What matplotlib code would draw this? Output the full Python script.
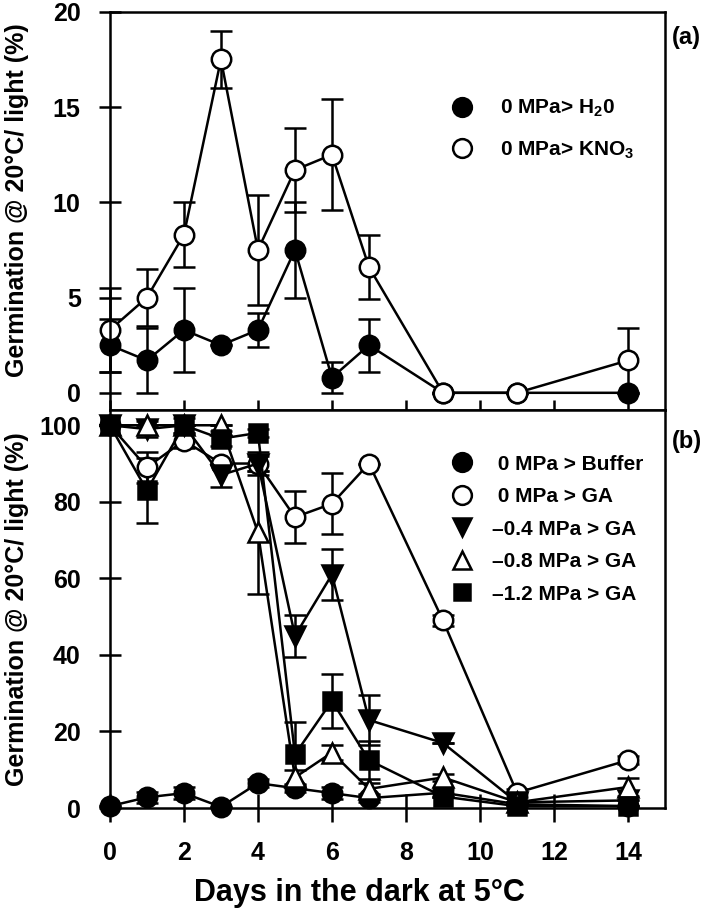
import matplotlib
matplotlib.use("Agg")
import matplotlib.pyplot as plt
from matplotlib.lines import Line2D

plt.rcParams['font.family'] = ['Liberation Sans', 'DejaVu Sans']
plt.rcParams['font.weight'] = 'bold'
plt.rcParams['mathtext.fontset'] = 'custom'
plt.rcParams['mathtext.rm'] = 'Liberation Sans:bold'
plt.rcParams['mathtext.default'] = 'rm'

# days in the dark at 5 C
days = [0, 1, 2, 3, 4, 5, 6, 7, 9, 11, 14]

# panel (a)
h2o = [2.5, 1.7, 3.3, 2.5, 3.3, 7.5, 0.8, 2.5, 0, 0, 0]
h2o_err = [1.4, 1.7, 2.2, 0, 0.9, 2.5, 0.8, 1.4, 0, 0, 0]
kno3 = [3.3, 5.0, 8.3, 17.5, 7.5, 11.7, 12.5, 6.6, 0, 0, 1.7]
kno3_err = [2.2, 1.5, 1.7, 1.5, 2.9, 2.2, 2.9, 1.7, 0, 0, 1.7]

# panel (b)
buffer = [0.5, 2.8, 3.9, 0.3, 6.5, 5.2, 3.9, 2.6, 4.0, 1.0, 0.5]
buffer_err = [0, 1.5, 1.5, 0, 1, 1, 1.5, 1, 1, 0, 0]
ga = [100, 89, 96, 90, 90, 76, 79.5, 90, 49, 4, 12.5]
ga_err = [0, 4, 2, 0, 2, 6.7, 8, 0, 1.5, 1, 1]
m04 = [100, 99, 100, 87, 90, 45, 61, 23, 17, 1.5, 2]
m04_err = [0, 2, 2, 3, 3, 5.5, 6.7, 6.5, 0, 0, 0]
m08 = [100, 100, 100, 100, 72, 8, 14.5, 5, 8, 1.5, 5.5]
m08_err = [0, 0, 0, 0, 16, 2, 2, 1.5, 1, 0, 2.3]
m12 = [100, 83, 100, 96.5, 98, 14, 28, 12.5, 3, 0.5, 0.5]
m12_err = [0, 8.5, 0, 2, 1, 8.5, 7, 5, 0, 0, 0]

labels_a = ['0 MPa> H$_2$0', '0 MPa> KNO$_3$']
labels_b = [' 0 MPa > Buffer', ' 0 MPa > GA', '\u20130.4 MPa > GA',
            '\u20130.8 MPa > GA', '\u20131.2 MPa > GA']

fig = plt.figure(figsize=(7.09, 9.11), dpi=100)
ax1 = fig.add_axes([0.155, 0.55, 0.783, 0.437])
ax2 = fig.add_axes([0.155, 0.113, 0.783, 0.437])

lw = 1.8
style = dict(color='black', lw=lw, ecolor='black', elinewidth=lw,
             capsize=8, capthick=lw, mew=lw, mec='black', clip_on=False)


def series(ax, y, err, marker, face, ms=14):
    ax.errorbar(days, y, yerr=err, marker=marker, mfc=face, ms=ms, **style)
    return Line2D([], [], ls='none', marker=marker, mfc=face, mec='black',
                  mew=lw, ms=ms - 0.5)


# (a)
handles_a = [series(ax1, h2o, h2o_err, 'o', 'black'),
             series(ax1, kno3, kno3_err, 'o', 'white')]
ax1.set_xlim(0, 15)
ax1.set_ylim(-0.9, 20)
ax1.set_yticks([0, 5, 10, 15, 20])
ax1.set_xticks(range(0, 16, 2))
ax1.tick_params(axis='x', direction='in', length=7, width=lw, labelbottom=False)
ax1.tick_params(axis='y', direction='inout', length=16, width=lw, labelsize=18, pad=13)
ax1.legend(handles_a, labels_a, loc='upper left', bbox_to_anchor=(0.572, 0.831),
           frameon=False, fontsize=15, labelspacing=0.97, handletextpad=1.1,
           handlelength=1.5)
ax1.text(1.013, 0.935, '(a)', transform=ax1.transAxes, fontsize=17,
         fontweight='bold', va='center')

# (b)
handles_b = [series(ax2, buffer, buffer_err, 'o', 'black'),
             series(ax2, ga, ga_err, 'o', 'white'),
             series(ax2, m04, m04_err, 'v', 'black'),
             series(ax2, m08, m08_err, '^', 'white'),
             series(ax2, m12, m12_err, 's', 'black', ms=12.5)]
ax2.set_xlim(0, 15)
ax2.set_ylim(0, 104)
ax2.set_yticks(range(0, 101, 20))
ax2.set_xticks(range(0, 15, 2))
ax2.tick_params(axis='x', direction='inout', length=20, width=lw, labelsize=18, pad=14)
ax2.tick_params(axis='y', direction='inout', length=16, width=lw, labelsize=18, pad=13)
ax2.legend(handles_b, labels_b, loc='upper left', bbox_to_anchor=(0.572, 0.935),
           frameon=False, fontsize=15, labelspacing=0.65, handletextpad=0.72,
           handlelength=1.5)
ax2.text(1.013, 0.92, '(b)', transform=ax2.transAxes, fontsize=17,
         fontweight='bold', va='center')
ax2.set_xlabel('Days in the dark at 5\u00b0C', fontsize=22, fontweight='bold')
ax2.xaxis.set_label_coords(0.449, -0.175)

for ax, yc in ((ax1, 0.528), (ax2, 0.5)):
    for s in ax.spines.values():
        s.set_linewidth(lw)
    ax.set_ylabel('Germination @ 20\u00b0C/ light (%)', fontsize=18, fontweight='bold')
    ax.yaxis.set_label_coords(-0.146, yc)

fig.savefig('out.png', dpi=100)
